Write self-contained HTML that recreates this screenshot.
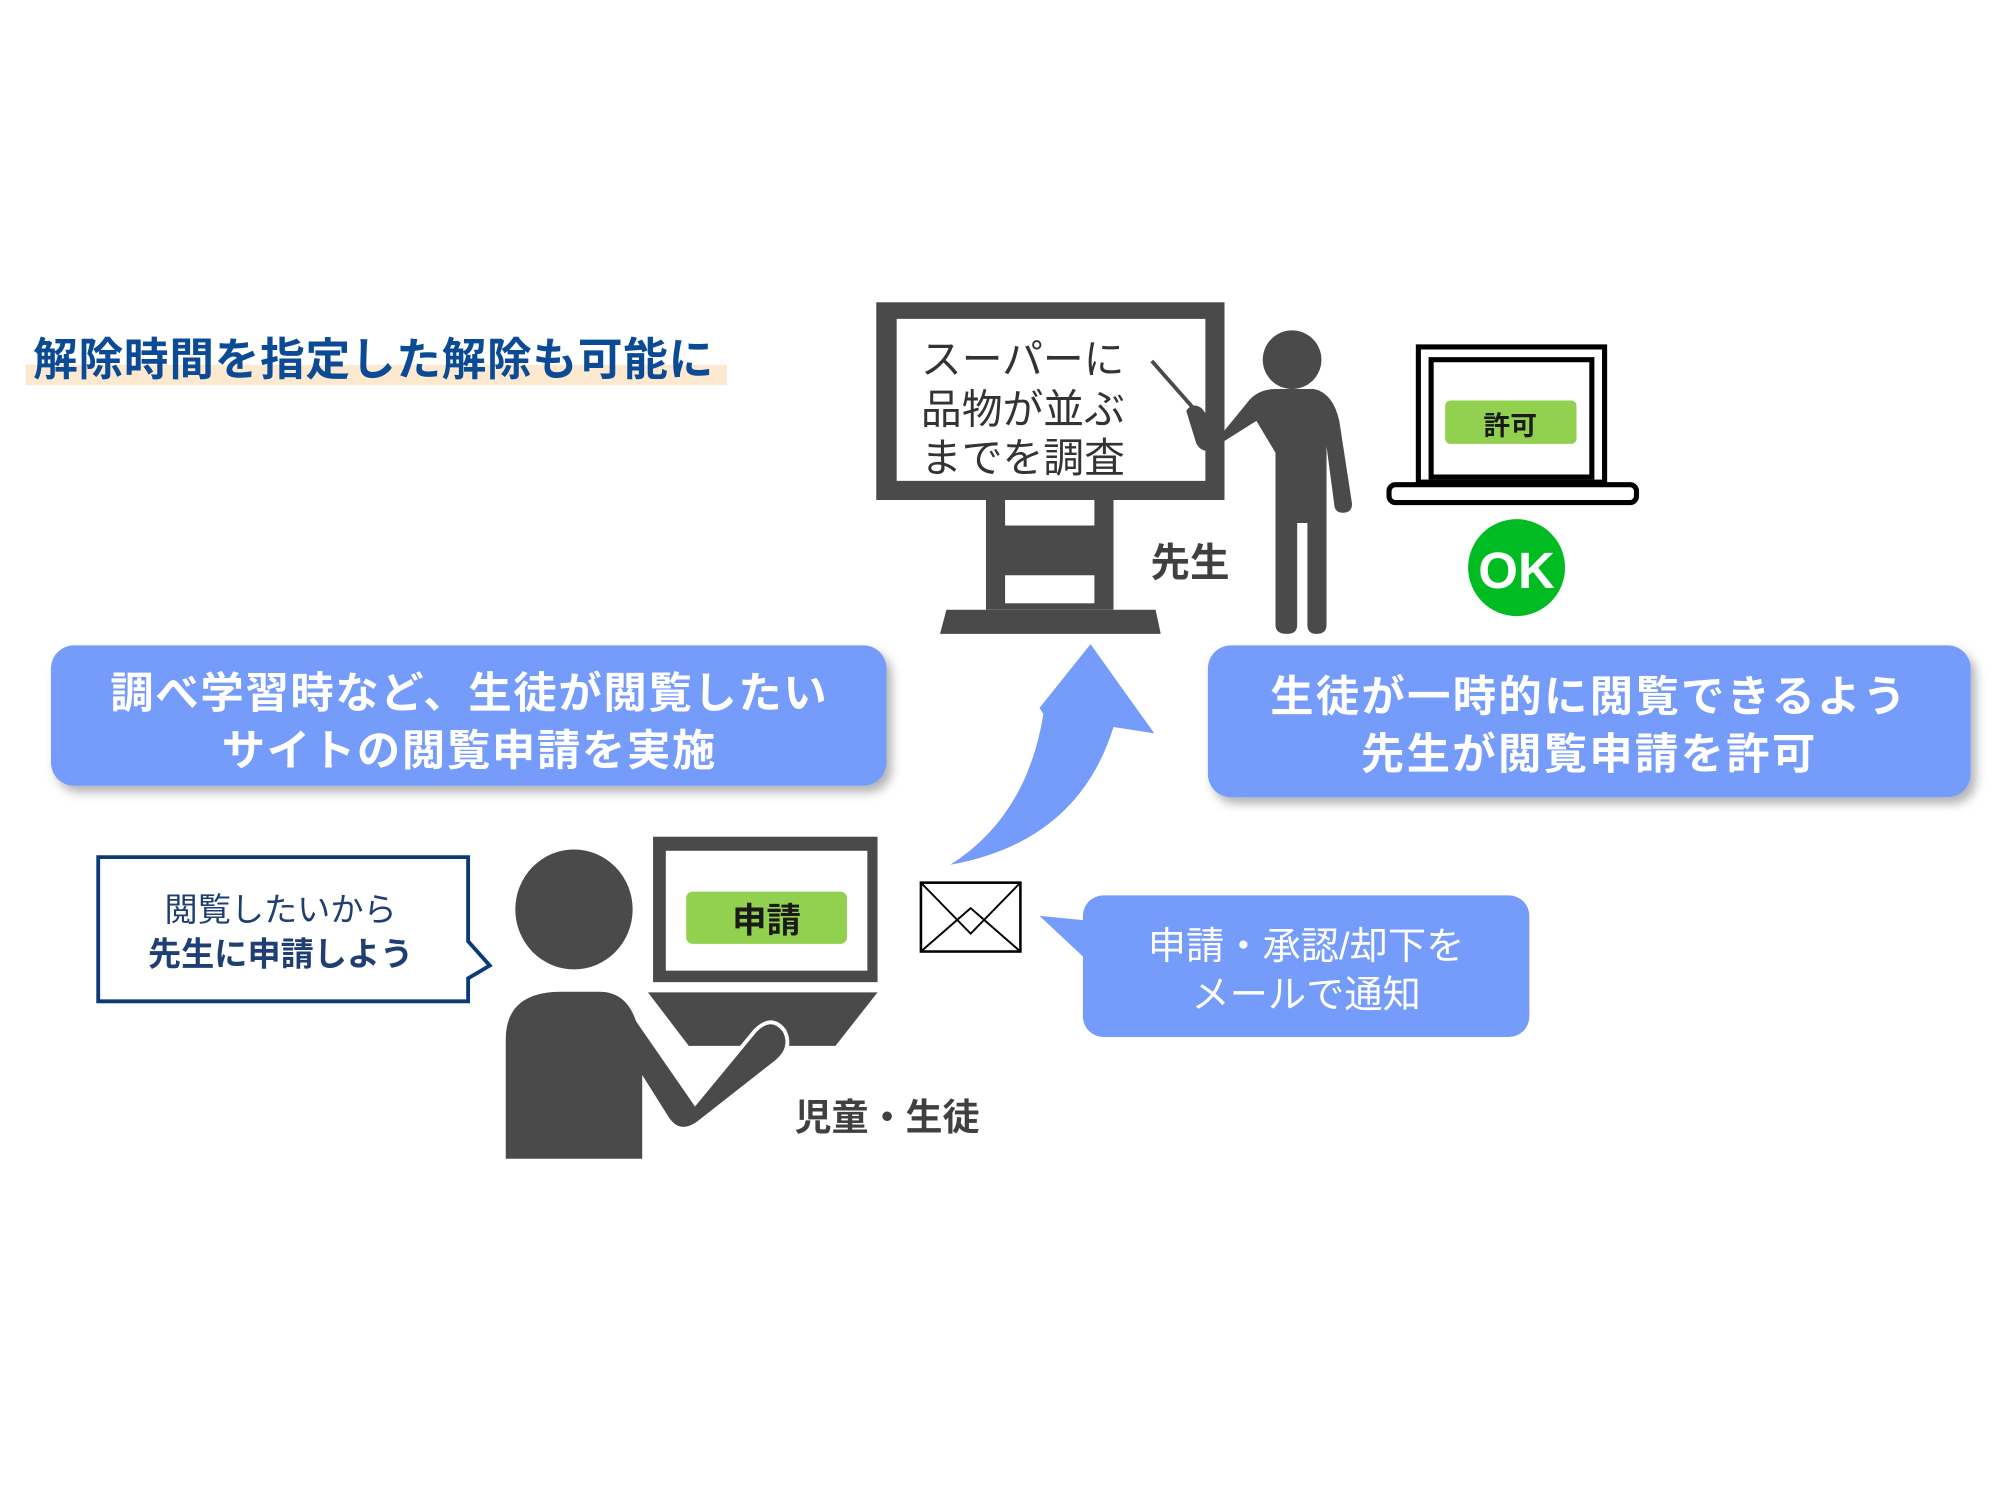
<!DOCTYPE html>
<html><head><meta charset="utf-8"><style>
html,body{margin:0;padding:0;background:#fff;}
svg{display:block;}
text{font-family:"Liberation Sans","Noto Sans CJK JP",sans-serif;}
</style></head><body>
<svg width="2000" height="1500" viewBox="0 0 1568 1176" xmlns="http://www.w3.org/2000/svg">
<defs>
<filter id="sh" x="-5%" y="-10%" width="115%" height="130%"><feDropShadow dx="4" dy="5" stdDeviation="4" flood-color="#000" flood-opacity="0.3"/></filter>
</defs>
<rect width="1568" height="1176" fill="#fff"/>
<!-- title -->
<rect x="20" y="286" width="550" height="16" fill="#fde9cf"/>
<text x="26" y="294" font-size="35" font-weight="bold" fill="#0b4a94" letter-spacing="0.6">解除時間を指定した解除も可能に</text>

<!-- board -->
<rect x="687" y="237" width="273" height="155" fill="#4a4a4a"/>
<rect x="703" y="250" width="242" height="127" fill="#fff"/>
<text font-size="32" fill="#333"><tspan x="722" y="293">スーパーに</tspan><tspan x="722" y="332">品物が並ぶ</tspan><tspan x="722" y="370">までを調査</tspan></text>
<rect x="773" y="392" width="100" height="86" fill="#4a4a4a"/>
<rect x="788" y="392" width="70" height="20" fill="#fff"/>
<rect x="788" y="451" width="70" height="22" fill="#fff"/>
<path d="M742,478 L906,478 L910,497 L737,497 Z" fill="#4a4a4a"/>
<text x="902" y="452" font-size="31" font-weight="bold" fill="#404040">先生</text>

<!-- teacher -->
<line x1="903" y1="283" x2="940" y2="325" stroke="#4a4a4a" stroke-width="3"/>
<ellipse cx="1013" cy="282" rx="23" ry="23" fill="#4a4a4a"/>
<path d="M1000,305 L1030,305 Q1045,308 1050,330 L1060,395 Q1060,402 1053,402 Q1046,402 1046,395 L1040,350 L1040,490 Q1040,497 1032,497 Q1025,497 1025,490 L1025,410 L1017,410 L1017,490 Q1017,497 1009,497 Q1000,497 1000,490 L1000,355 L985,330 L950,352 Q943,356 938,348 L930,322 Q935,315 942,320 L958,340 L980,313 Q988,305 1000,305 Z" fill="#4a4a4a"/>

<!-- laptop -->
<rect x="1112" y="272" width="146" height="106" fill="none" stroke="#000" stroke-width="4"/>
<rect x="1122" y="282" width="126" height="92" fill="none" stroke="#000" stroke-width="4"/>
<rect x="1089" y="380" width="194" height="14" rx="5" fill="none" stroke="#000" stroke-width="4"/>
<rect x="1133" y="314" width="103" height="34" rx="4" fill="#92d050"/>
<text x="1184" y="341" font-size="21" font-weight="bold" fill="#1a1a1a" text-anchor="middle">許可</text>
<circle cx="1189" cy="445" r="38" fill="#00bb22"/>
<text x="1189" y="461" font-size="40" font-weight="bold" fill="#fff" text-anchor="middle">OK</text>

<!-- big boxes -->
<rect x="40" y="506" width="655" height="110" rx="18" fill="#759bfb" filter="url(#sh)"/>
<text font-size="34" font-weight="bold" fill="#fff" text-anchor="middle" letter-spacing="1.3"><tspan x="368" y="555">調べ学習時など、生徒が閲覧したい</tspan><tspan x="368" y="600">サイトの閲覧申請を実施</tspan></text>
<rect x="947" y="506" width="598" height="119" rx="18" fill="#759bfb" filter="url(#sh)"/>
<text font-size="34" font-weight="bold" fill="#fff" text-anchor="middle" letter-spacing="1.8"><tspan x="1246" y="558">生徒が一時的に閲覧できるよう</tspan><tspan x="1246" y="603">先生が閲覧申請を許可</tspan></text>

<!-- arrow -->
<path d="M745,678 Q805,640 818,560 L815,555 L855,505 L905,575 L873,570 Q845,660 745,678 Z" fill="#759bfb"/>

<!-- student -->
<ellipse cx="450" cy="713" rx="46" ry="47" fill="#4a4a4a"/>
<rect x="512" y="656" width="176" height="114" fill="#4a4a4a"/>
<rect x="522" y="667" width="158" height="94" fill="#fff"/>
<rect x="538" y="699" width="126" height="41" rx="5" fill="#92d050"/>
<text x="601" y="731" font-size="27" font-weight="bold" fill="#1a1a1a" text-anchor="middle">申請</text>
<path d="M508,778 L688,778 L655,820 L540,820 Z" fill="#4a4a4a"/>
<path d="M395,910 L395,815 Q395,776 440,776 L470,776 Q492,776 500,800 L545,865 L592,808 Q605,795 615,808 Q622,822 608,833 L548,880 Q532,892 522,875 L505,848 L505,910 Z" fill="#4a4a4a" stroke="#fff" stroke-width="3"/>
<text x="623" y="886" font-size="29" font-weight="bold" fill="#404040">児童・生徒</text>

<!-- left callout -->
<path d="M77,672 L367,672 L367,738 L384,757 L367,767 L367,785 L77,785 Z" fill="#fff" stroke="#0b3a78" stroke-width="3"/>
<text font-size="26" fill="#1f3e73" text-anchor="middle"><tspan x="220" y="722">閲覧したいから</tspan><tspan x="220" y="757" font-weight="bold">先生に申請しよう</tspan></text>

<!-- envelope -->
<rect x="722" y="692" width="78" height="54" fill="#fff" stroke="#000" stroke-width="2"/>
<path d="M722,692 L761,732 L800,692 M722,746 L761,712 L800,746" fill="none" stroke="#000" stroke-width="1.5"/>

<!-- mail callout -->
<path d="M815,718 L855,722 L862,762 Z" fill="#759bfb"/>
<rect x="849" y="702" width="350" height="111" rx="16" fill="#759bfb"/>
<text font-size="30" fill="#fff" text-anchor="middle"><tspan x="1024" y="752">申請・承認/却下を</tspan><tspan x="1024" y="790">メールで通知</tspan></text>
</svg>
</body></html>
